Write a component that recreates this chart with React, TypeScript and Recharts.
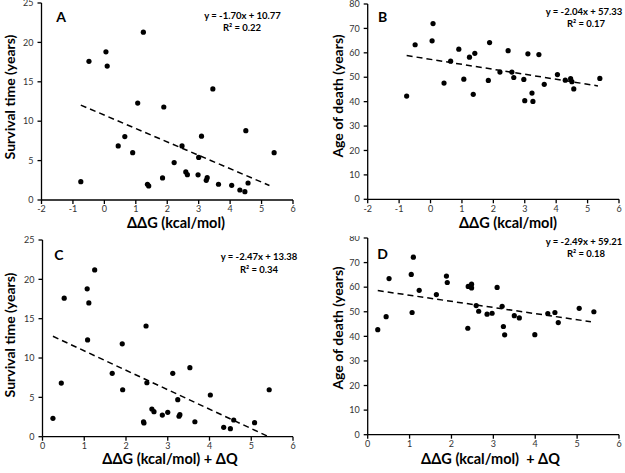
import React from 'react';
import { ScatterChart, Scatter, XAxis, YAxis, ReferenceLine } from 'recharts';

// A: survival time vs ddG
const survivalVsDdg = [
  { x: -0.75, y: 2.33 }, { x: -0.49, y: 17.6 }, { x: 0.05, y: 18.8 }, { x: 0.09, y: 17.0 },
  { x: 0.44, y: 6.86 }, { x: 0.65, y: 8.05 }, { x: 0.9, y: 6.0 }, { x: 1.06, y: 12.3 },
  { x: 1.24, y: 21.3 }, { x: 1.37, y: 2.0 }, { x: 1.41, y: 1.78 }, { x: 1.85, y: 2.8 },
  { x: 1.89, y: 11.8 }, { x: 2.22, y: 4.75 }, { x: 2.47, y: 6.86 }, { x: 2.59, y: 3.56 },
  { x: 2.64, y: 3.22 }, { x: 2.98, y: 3.2 }, { x: 3.0, y: 5.4 }, { x: 3.09, y: 8.1 },
  { x: 3.24, y: 2.5 }, { x: 3.27, y: 2.83 }, { x: 3.45, y: 14.1 }, { x: 3.63, y: 2.0 },
  { x: 4.05, y: 1.86 }, { x: 4.31, y: 1.27 }, { x: 4.47, y: 1.06 }, { x: 4.5, y: 8.8 },
  { x: 4.57, y: 2.16 }, { x: 5.4, y: 6.0 },
];

// B: age of death vs ddG
const ageVsDdg = [
  { x: -0.76, y: 42.3 }, { x: -0.49, y: 63.3 }, { x: 0.05, y: 64.9 }, { x: 0.08, y: 72 },
  { x: 0.43, y: 47.6 }, { x: 0.64, y: 56.6 }, { x: 0.9, y: 61.5 }, { x: 1.06, y: 49.2 },
  { x: 1.24, y: 58.2 }, { x: 1.36, y: 43.0 }, { x: 1.41, y: 59.8 }, { x: 1.84, y: 48.7 },
  { x: 1.88, y: 64.2 }, { x: 2.21, y: 52.1 }, { x: 2.47, y: 60.9 }, { x: 2.59, y: 52.1 },
  { x: 2.65, y: 49.9 }, { x: 2.97, y: 49.1 }, { x: 3.0, y: 40.4 }, { x: 3.1, y: 59.6 },
  { x: 3.23, y: 43.5 }, { x: 3.26, y: 40.1 }, { x: 3.45, y: 59.3 }, { x: 3.62, y: 47.1 },
  { x: 4.04, y: 51.1 }, { x: 4.29, y: 48.8 }, { x: 4.46, y: 49.4 }, { x: 4.5, y: 48.2 },
  { x: 4.56, y: 45.2 }, { x: 5.39, y: 49.5 },
];

// C: survival time vs ddG + dQ
const survivalVsDdgQ = [
  { x: 0.25, y: 2.33 }, { x: 0.45, y: 6.82 }, { x: 0.52, y: 17.6 }, { x: 1.07, y: 18.8 },
  { x: 1.11, y: 17.0 }, { x: 1.08, y: 12.3 }, { x: 1.25, y: 21.2 }, { x: 1.67, y: 8.05 },
  { x: 1.91, y: 11.8 }, { x: 1.92, y: 5.97 }, { x: 2.48, y: 14.07 }, { x: 2.5, y: 6.86 },
  { x: 2.42, y: 1.9 }, { x: 2.43, y: 1.74 }, { x: 2.62, y: 3.52 }, { x: 2.67, y: 3.18 },
  { x: 2.87, y: 2.75 }, { x: 3.0, y: 3.1 }, { x: 3.12, y: 8.05 }, { x: 3.24, y: 4.7 },
  { x: 3.27, y: 2.6 }, { x: 3.29, y: 2.8 }, { x: 3.53, y: 8.77 }, { x: 3.65, y: 1.9 },
  { x: 4.02, y: 5.3 }, { x: 4.34, y: 1.19 }, { x: 4.5, y: 1.02 }, { x: 4.58, y: 2.12 },
  { x: 5.08, y: 1.78 }, { x: 5.43, y: 5.97 },
];

// D: age of death vs ddG + dQ
const ageVsDdgQ = [
  { x: 0.24, y: 42.7 }, { x: 0.44, y: 48.0 }, { x: 0.51, y: 63.5 }, { x: 1.04, y: 65.2 },
  { x: 1.09, y: 72.2 }, { x: 1.06, y: 49.7 }, { x: 1.23, y: 58.7 }, { x: 1.64, y: 57.0 },
  { x: 1.88, y: 64.5 }, { x: 1.9, y: 61.9 }, { x: 2.39, y: 43.3 }, { x: 2.4, y: 60.3 },
  { x: 2.48, y: 61.2 }, { x: 2.48, y: 59.7 }, { x: 2.59, y: 52.5 }, { x: 2.65, y: 50.2 },
  { x: 2.85, y: 49.0 }, { x: 2.97, y: 49.4 }, { x: 3.09, y: 59.9 }, { x: 3.21, y: 52.2 },
  { x: 3.24, y: 44.0 }, { x: 3.27, y: 40.6 }, { x: 3.5, y: 48.4 }, { x: 3.62, y: 47.5 },
  { x: 3.99, y: 40.7 }, { x: 4.3, y: 49.3 }, { x: 4.47, y: 49.7 }, { x: 4.55, y: 45.6 },
  { x: 5.05, y: 51.4 }, { x: 5.4, y: 50.0 },
];

const ddgTicks = [-2, -1, 0, 1, 2, 3, 4, 5, 6];
const ddgqTicks = [0, 1, 2, 3, 4, 5, 6];
const survivalTicks = [0, 5, 10, 15, 20, 25];
const ageTicks = [0, 10, 20, 30, 40, 50, 60, 70, 80];

// trend lines as printed on the chart, drawn over the data range
const fitA = { slope: -1.7, intercept: 10.77, from: -0.75, to: 5.25 };
const fitB = { slope: -2.04, intercept: 57.33, from: -0.76, to: 5.33 };
const fitC = { slope: -2.47, intercept: 13.38, from: 0.25, to: 5.4 };
const fitD = { slope: -2.49, intercept: 59.21, from: 0.24, to: 5.33 };

const tickStyle = { fontSize: 9, fill: '#333' };

function Panel({ left, top, width, height, mt, mr, yw, xh, data, xTicks, yTicks, fit }: any) {
  const seg = [
    { x: fit.from, y: fit.slope * fit.from + fit.intercept },
    { x: fit.to, y: fit.slope * fit.to + fit.intercept },
  ];
  return (
    <div style={{ position: 'absolute', left, top }}>
      <ScatterChart width={width} height={height} style={{ overflow: 'visible' }} margin={{ top: mt, right: mr, left: 0, bottom: 0 }}>
        <XAxis
          type="number"
          dataKey="x"
          domain={[xTicks[0], xTicks[xTicks.length - 1]]}
          ticks={xTicks}
          interval={0}
          height={xh}
          stroke="#000"
          strokeWidth={1.3}
          tickSize={4}
          tickMargin={2}
          tick={tickStyle}
        />
        <YAxis
          type="number"
          dataKey="y"
          domain={[yTicks[0], yTicks[yTicks.length - 1]]}
          ticks={yTicks}
          interval={0}
          width={yw}
          stroke="#000"
          strokeWidth={1.3}
          tickSize={4}
          tickMargin={4}
          tick={tickStyle}
        />
        <ReferenceLine segment={seg} stroke="#000" strokeWidth={1.5} strokeDasharray="6 4" />
        <Scatter data={data} fill="#000" shape={(p: any) => <circle cx={p.cx} cy={p.cy} r={2.6} fill="#000" />} isAnimationActive={false} />
      </ScatterChart>
    </div>
  );
}

function Txt({ x, y, size, rotate, children }: any) {
  return (
    <div
      style={{
        position: 'absolute',
        left: x,
        top: y,
        transform: `translate(-50%, -50%)${rotate ? ' rotate(-90deg)' : ''}`,
        fontSize: size,
        fontWeight: 700,
        whiteSpace: 'pre',
        lineHeight: 1,
        color: '#000',
      }}
    >
      {children}
    </div>
  );
}

export default function App() {
  return (
    <div style={{ position: 'absolute', left: 0, top: 0, width: 625, height: 473, background: '#fff', fontFamily: 'Lato, sans-serif', overflow: 'hidden' }}>
      <Panel left={0} top={0} width={312} height={235} mt={3} mr={19} yw={41.5} xh={35} data={survivalVsDdg} xTicks={ddgTicks} yTicks={survivalTicks} fit={fitA} />
      <Panel left={320} top={0} width={305} height={235} mt={4} mr={6} yw={47.7} xh={35.7} data={ageVsDdg} xTicks={ddgTicks} yTicks={ageTicks} fit={fitB} />
      <Panel left={0} top={236} width={312} height={237} mt={4} mr={19} yw={42.5} xh={36.3} data={survivalVsDdgQ} xTicks={ddgqTicks} yTicks={survivalTicks} fit={fitC} />
      <Panel left={320} top={236} width={305} height={237} mt={2} mr={6} yw={47.7} xh={38.3} data={ageVsDdgQ} xTicks={ddgqTicks} yTicks={ageTicks} fit={fitD} />

      <Txt x={61} y={16.5} size={14}>A</Txt>
      <Txt x={382.5} y={16.5} size={14}>B</Txt>
      <Txt x={59} y={255} size={14}>C</Txt>
      <Txt x={382.5} y={254} size={14}>D</Txt>

      <Txt x={242.5} y={15.7} size={9.5}>y = -1.70x + 10.77</Txt>
      <Txt x={242} y={28.3} size={9.5}>R² = 0.22</Txt>
      <Txt x={584} y={12} size={9.5}>y = -2.04x + 57.33</Txt>
      <Txt x={586} y={24} size={9.5}>R² = 0.17</Txt>
      <Txt x={259} y={257} size={9.5}>y = -2.47x + 13.38</Txt>
      <Txt x={259} y={270} size={9.5}>R² = 0.34</Txt>
      <Txt x={584} y={242} size={9.5}>y = -2.49x + 59.21</Txt>
      <Txt x={586} y={254} size={9.5}>R² = 0.18</Txt>

      <Txt x={10} y={97} size={14} rotate>Survival time (years)</Txt>
      <Txt x={338} y={96} size={14} rotate>Age of death (years)</Txt>
      <Txt x={10} y={335} size={14} rotate>Survival time (years)</Txt>
      <Txt x={338} y={328} size={14} rotate>Age of death (years)</Txt>

      <Txt x={176} y={222.5} size={14.5}>ΔΔG (kcal/mol)</Txt>
      <Txt x={508} y={222.5} size={14.5}>ΔΔG (kcal/mol)</Txt>
      <Txt x={170} y={459} size={14.5}>ΔΔG (kcal/mol) + ΔQ</Txt>
      <Txt x={490.5} y={459} size={14.5}>ΔΔG (kcal/mol)  + ΔQ</Txt>
    </div>
  );
}
